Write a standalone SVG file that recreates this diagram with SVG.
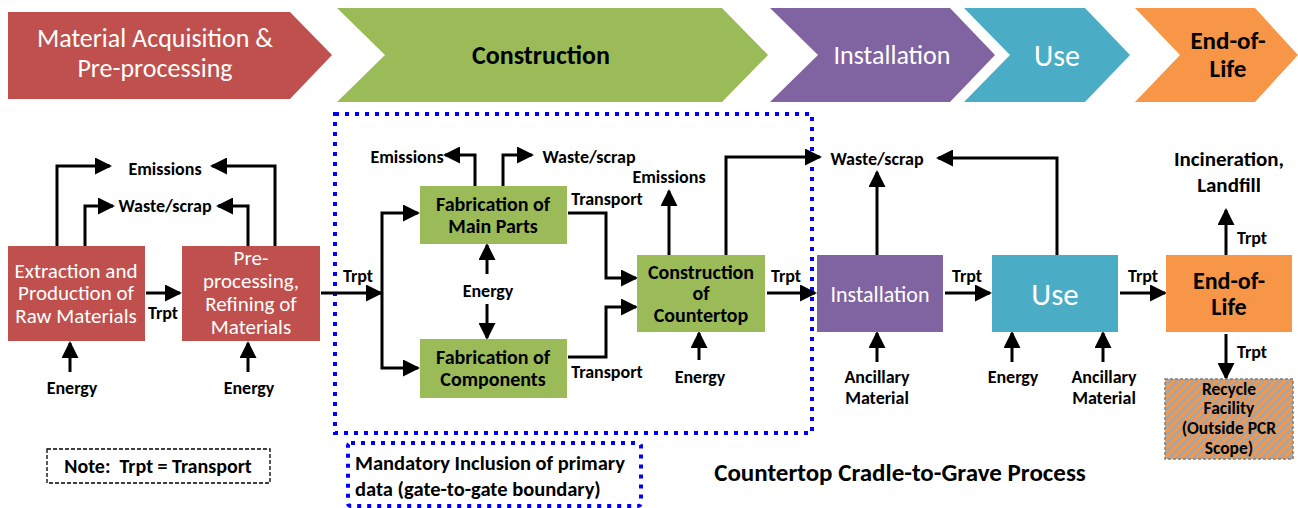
<svg xmlns="http://www.w3.org/2000/svg" width="1298" height="508" viewBox="0 0 1298 508">
<style>
text{font-family:Carlito,Lato,"Liberation Sans",sans-serif;text-anchor:middle;dominant-baseline:central}
.b{font-weight:bold;fill:#000}
.l14{font-size:18px}
.l16{font-size:20px}
.w{fill:#fff}
.arr{fill:none;stroke:#000;stroke-width:3;marker-end:url(#ah)}
</style>
<defs>
<marker id="ah" markerUnits="userSpaceOnUse" markerWidth="17" markerHeight="17" refX="15" refY="8.5" orient="auto">
<path d="M0,0 L17,8.5 L0,17 z" fill="#000"/>
</marker>
<pattern id="hatch" patternUnits="userSpaceOnUse" width="6" height="6" patternTransform="rotate(45)">
<rect width="6" height="6" fill="#a6a6a6"/>
<rect width="3" height="6" fill="#f79646"/>
</pattern>
</defs>
<rect width="1298" height="508" fill="#fff"/>
<g id="banner">
<g id="stage-material"><polygon points="8,12 290,12 332,55 290,99 8,99" fill="#c0504d"/>
<text x="155" y="38" class="w" style="font-size:26px">Material Acquisition &amp;</text>
<text x="155" y="68" class="w" style="font-size:26px">Pre-processing</text></g>
<g id="stage-construction"><polygon points="337,8 722,8 768,55 722,102 337,102 385,55" fill="#9bbb59"/>
<text x="541" y="55" class="b" style="font-size:26px">Construction</text></g>
<g id="stage-installation"><polygon points="770,8 950,8 995,55 950,102 770,102 818,55" fill="#8064a2"/>
<text x="892" y="55" class="w" style="font-size:26px">Installation</text></g>
<g id="stage-use"><polygon points="964,8 1085,8 1130,55 1085,102 964,102 1010,55" fill="#4bacc6"/>
<text x="1057" y="55" class="w" style="font-size:30px">Use</text></g>
<g id="stage-eol"><polygon points="1135,8 1255,8 1298,55 1255,102 1135,102 1180,55" fill="#f79646"/>
<text x="1228" y="40" class="b" style="font-size:25px">End-of-</text>
<text x="1228" y="68" class="b" style="font-size:25px">Life</text></g>
</g>
<g id="boundary">
<rect x="335" y="114" width="477" height="319" fill="none" stroke="#0000ff" stroke-width="4" stroke-dasharray="4 6"/>
</g>
<g id="connectors">
<path class="arr" d="M57,246 V166 H110"/>
<path class="arr" d="M275,246 V166 H212"/>
<path class="arr" d="M85,246 V206 H113"/>
<path class="arr" d="M248,246 V206 H218"/>
<path class="arr" d="M146,293 H180"/>
<path class="arr" d="M70,372 V343"/>
<path class="arr" d="M248,372 V343"/>
<path class="arr" d="M321,293 H381"/>
<path class="arr" d="M382,293 V213 H418"/>
<path class="arr" d="M382,293 V368 H418"/>
<path class="arr" d="M487,274 V245"/>
<path class="arr" d="M487,304 V338"/>
<path class="arr" d="M475,186 V155 H445"/>
<path class="arr" d="M503,186 V155 H532"/>
<path class="arr" d="M568,213 H606 V278 H636"/>
<path class="arr" d="M568,357 H606 V307 H636"/>
<path class="arr" d="M669,255 V191"/>
<path class="arr" d="M726,255 V157 H820"/>
<path class="arr" d="M699,360 V333"/>
<path class="arr" d="M767,293 H815"/>
<path class="arr" d="M877,255 V172"/>
<path class="arr" d="M1057,255 V158 H938"/>
<path class="arr" d="M877,362 V333"/>
<path class="arr" d="M945,293 H990"/>
<path class="arr" d="M1120,293 H1165"/>
<path class="arr" d="M1012,362 V333"/>
<path class="arr" d="M1103,362 V333"/>
<path class="arr" d="M1226,255 V210"/>
<path class="arr" d="M1226,334 V378"/>
</g>
<g id="labels">
<text x="165" y="169" class="b l14">Emissions</text>
<text x="165" y="206" class="b l14">Waste/scrap</text>
<text x="163" y="313" class="b l14">Trpt</text>
<text x="72" y="388" class="b l14">Energy</text>
<text x="249" y="388" class="b l14">Energy</text>
<text x="358" y="276" class="b l14">Trpt</text>
<text x="407" y="157" class="b l14">Emissions</text>
<text x="589" y="157" class="b l14">Waste/scrap</text>
<text x="488" y="291" class="b l14">Energy</text>
<text x="607" y="199" class="b l14">Transport</text>
<text x="607" y="372" class="b l14">Transport</text>
<text x="669" y="177" class="b l14">Emissions</text>
<text x="700" y="377" class="b l14">Energy</text>
<text x="786" y="276" class="b l14">Trpt</text>
<text x="877" y="159" class="b l14">Waste/scrap</text>
<text x="967" y="276" class="b l14">Trpt</text>
<text x="1143" y="276" class="b l14">Trpt</text>
<text x="877" y="377" class="b l14">Ancillary</text>
<text x="877" y="398" class="b l14">Material</text>
<text x="1013" y="377" class="b l14">Energy</text>
<text x="1104" y="377" class="b l14">Ancillary</text>
<text x="1104" y="398" class="b l14">Material</text>
<text x="1252" y="238" class="b l14">Trpt</text>
<text x="1252" y="352" class="b l14">Trpt</text>
<text x="1229" y="159" class="b" style="font-size:21px">Incineration,</text>
<text x="1229" y="185" class="b" style="font-size:21px">Landfill</text>
</g>
<g id="node-extraction">
<rect x="8" y="246" width="137" height="95" fill="#c0504d"/>
<text x="76" y="271" class="w" style="font-size:21px">Extraction and</text>
<text x="76" y="293" class="w" style="font-size:21px">Production of</text>
<text x="76" y="316" class="w" style="font-size:21px">Raw Materials</text>
</g>
<g id="node-preprocessing">
<rect x="182" y="246" width="138" height="95" fill="#c0504d"/>
<text x="251" y="258" class="w" style="font-size:21px">Pre-</text>
<text x="251" y="281" class="w" style="font-size:21px">processing,</text>
<text x="251" y="304" class="w" style="font-size:21px">Refining of</text>
<text x="251" y="327" class="w" style="font-size:21px">Materials</text>
</g>
<g id="node-fab-main">
<rect x="420" y="186" width="147" height="58" fill="#9bbb59"/>
<text x="493" y="204" class="b l16">Fabrication of</text>
<text x="493" y="226" class="b l16">Main Parts</text>
</g>
<g id="node-fab-comp">
<rect x="420" y="339" width="147" height="59" fill="#9bbb59"/>
<text x="493" y="357" class="b l16">Fabrication of</text>
<text x="493" y="379" class="b l16">Components</text>
</g>
<g id="node-construction">
<rect x="637" y="255" width="128" height="77" fill="#9bbb59"/>
<text x="701" y="272" class="b l16">Construction</text>
<text x="701" y="293" class="b l16">of</text>
<text x="701" y="315" class="b l16">Countertop</text>
</g>
<g id="node-installation">
<rect x="817" y="255" width="126" height="77" fill="#8064a2"/>
<text x="880" y="294" class="w" style="font-size:22px">Installation</text>
</g>
<g id="node-use">
<rect x="992" y="255" width="126" height="77" fill="#4bacc6"/>
<text x="1055" y="294" class="w" style="font-size:31px">Use</text>
</g>
<g id="node-eol">
<rect x="1166" y="255" width="126" height="77" fill="#f79646"/>
<text x="1229" y="280" class="b" style="font-size:24px">End-of-</text>
<text x="1229" y="306" class="b" style="font-size:24px">Life</text>
</g>
<g id="node-recycle">
<rect x="1165" y="379" width="128" height="80" fill="url(#hatch)" stroke="#7f7f7f" stroke-width="1.5" stroke-dasharray="3 2"/>
<text x="1229" y="389" class="b" style="font-size:17.5px">Recycle</text>
<text x="1229" y="408" class="b" style="font-size:17.5px">Facility</text>
<text x="1229" y="428" class="b" style="font-size:17.5px">(Outside PCR</text>
<text x="1229" y="448" class="b" style="font-size:17.5px">Scope)</text>
</g>
<g id="note">
<rect x="47" y="449" width="223" height="34" fill="#fff" stroke="#000" stroke-width="1.3" stroke-dasharray="4 2"/>
<text x="158" y="466" class="b" style="font-size:20px">Note:&#160; Trpt = Transport</text>
</g>
<g id="mandatory">
<rect x="348" y="443" width="293" height="63" rx="3" fill="#fff" stroke="#0000ff" stroke-width="4" stroke-dasharray="4 6"/>
<text x="355" y="463" class="b" style="text-anchor:start;font-size:20.5px">Mandatory Inclusion of primary</text>
<text x="355" y="489" class="b" style="text-anchor:start;font-size:20.5px">data (gate-to-gate boundary)</text>
</g>
<g id="title">
<text x="900" y="472" class="b" style="font-size:25px">Countertop Cradle-to-Grave Process</text>
</g>
</svg>
